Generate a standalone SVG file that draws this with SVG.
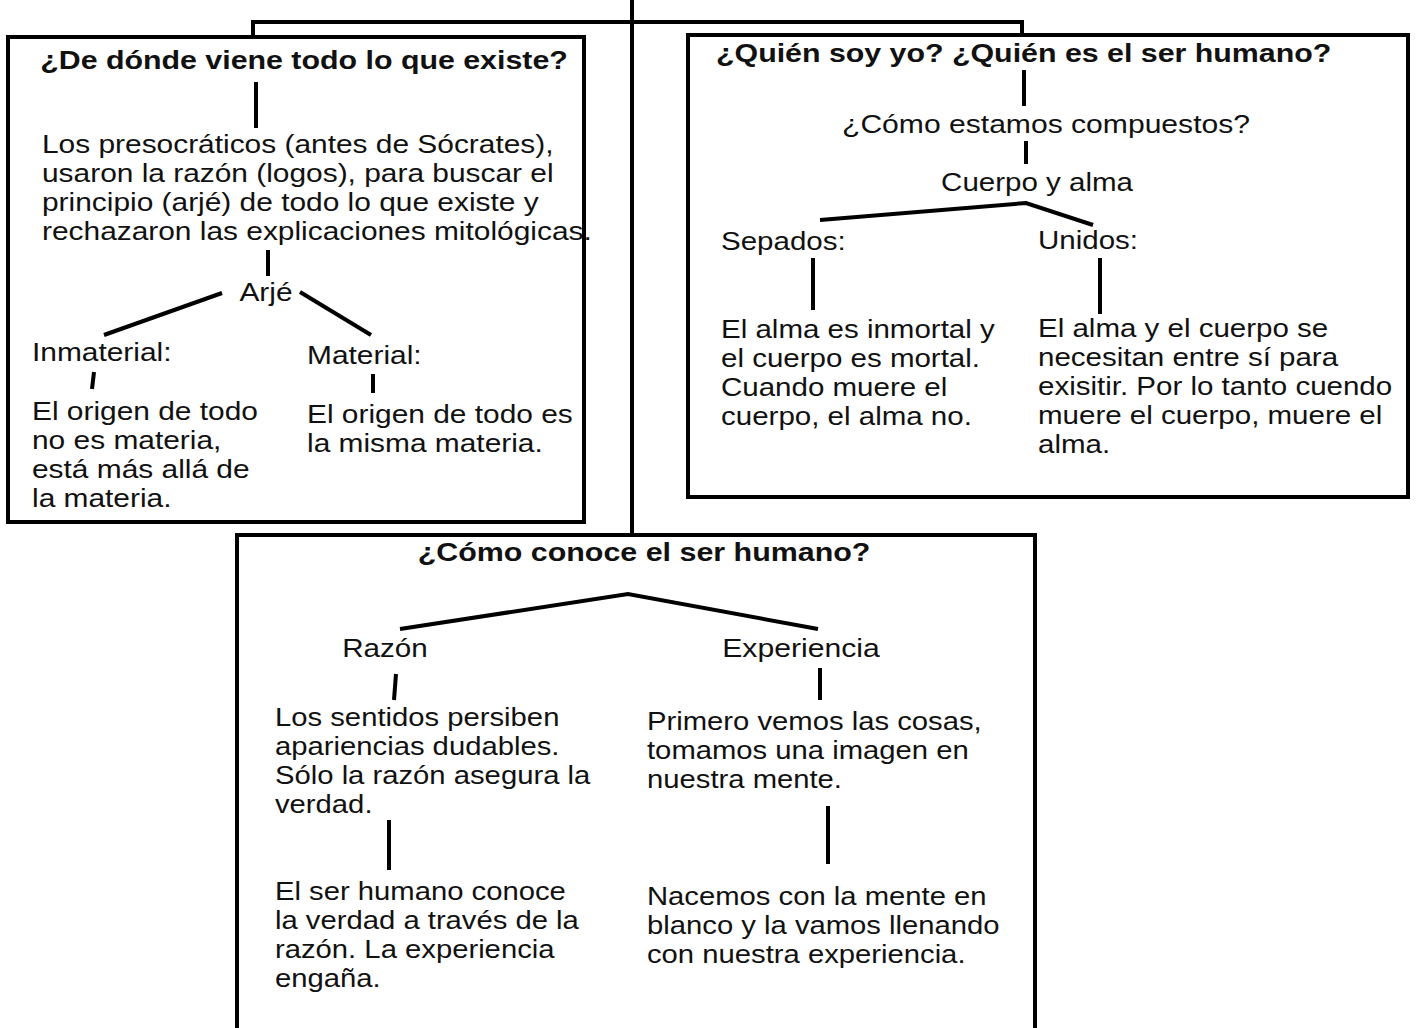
<svg xmlns="http://www.w3.org/2000/svg" width="1416" height="1028" viewBox="0 0 1416 1028">
<style>
.box{fill:none;stroke:#000;stroke-width:4}
.ln{stroke:#000;stroke-width:4;fill:none;stroke-linecap:butt}
text{font-family:"Liberation Sans",Arial,sans-serif;font-size:26px;fill:#111}
.t{font-weight:bold;font-size:26px}
.c{text-anchor:middle}
</style>
<rect width="1416" height="1028" fill="#fff"/>
<g id="connectors">
<path class="ln" d="M632 0 V535"/>
<path class="ln" d="M253 37 V22 H1022 V37"/>
<path class="ln" d="M256 82 V128"/>
<path class="ln" d="M268 250 V276"/>
<path class="ln" d="M222 293 L104 335"/>
<path class="ln" d="M300 292 L371 335"/>
<path class="ln" d="M94 372 L92 389"/>
<path class="ln" d="M373 374 V393"/>
<path class="ln" d="M1024 70 V106"/>
<path class="ln" d="M1026 141 V164"/>
<path class="ln" d="M820 220 L1026 203 L1093 225"/>
<path class="ln" d="M813 258 V310"/>
<path class="ln" d="M1100 258 V314"/>
<path class="ln" d="M400 629 L628 594 L818 629"/>
<path class="ln" d="M396 674 L394 700"/>
<path class="ln" d="M820 668 V700"/>
<path class="ln" d="M389 820 V870"/>
<path class="ln" d="M828 806 V864"/>
</g>
<g id="node-origen">
<rect class="box" x="8" y="37" width="576" height="485"/>
<text class="t c" transform="translate(304 69) scale(1.167 1)">¿De dónde viene todo lo que existe?</text>
<text transform="translate(42 153) scale(1.15 1)">Los presocráticos (antes de Sócrates),</text>
<text transform="translate(42 182) scale(1.15 1)">usaron la razón (logos), para buscar el</text>
<text transform="translate(42 211) scale(1.15 1)">principio (arjé) de todo lo que existe y</text>
<text transform="translate(42 240) scale(1.15 1)">rechazaron las explicaciones mitológicas.</text>
<text class="c" transform="translate(266 301) scale(1.15 1)">Arjé</text>
<text transform="translate(32 361) scale(1.15 1)">Inmaterial:</text>
<text transform="translate(307 364) scale(1.15 1)">Material:</text>
<text transform="translate(32 420) scale(1.15 1)">El origen de todo</text>
<text transform="translate(32 449) scale(1.15 1)">no es materia,</text>
<text transform="translate(32 478) scale(1.15 1)">está más allá de</text>
<text transform="translate(32 507) scale(1.15 1)">la materia.</text>
<text transform="translate(307 423) scale(1.15 1)">El origen de todo es</text>
<text transform="translate(307 452) scale(1.15 1)">la misma materia.</text>
</g>
<g id="node-quien">
<rect class="box" x="688" y="35" width="720" height="462"/>
<text class="t" transform="translate(716 62) scale(1.167 1)">¿Quién soy yo? ¿Quién es el ser humano?</text>
<text class="c" transform="translate(1046 133) scale(1.158 1)">¿Cómo estamos compuestos?</text>
<text class="c" transform="translate(1037 191) scale(1.135 1)">Cuerpo y alma</text>
<text transform="translate(721 250) scale(1.135 1)">Sepados:</text>
<text transform="translate(1038 249) scale(1.135 1)">Unidos:</text>
<text transform="translate(721 338) scale(1.135 1)">El alma es inmortal y</text>
<text transform="translate(721 367) scale(1.135 1)">el cuerpo es mortal.</text>
<text transform="translate(721 396) scale(1.135 1)">Cuando muere el</text>
<text transform="translate(721 425) scale(1.135 1)">cuerpo, el alma no.</text>
<text transform="translate(1038 337) scale(1.135 1)">El alma y el cuerpo se</text>
<text transform="translate(1038 366) scale(1.135 1)">necesitan entre sí para</text>
<text transform="translate(1038 395) scale(1.135 1)">exisitir. Por lo tanto cuendo</text>
<text transform="translate(1038 424) scale(1.135 1)">muere el cuerpo, muere el</text>
<text transform="translate(1038 453) scale(1.135 1)">alma.</text>
</g>
<g id="node-conoce">
<rect class="box" x="237" y="535" width="798" height="510"/>
<text class="t c" transform="translate(644 561) scale(1.17 1)">¿Cómo conoce el ser humano?</text>
<text class="c" transform="translate(385 657) scale(1.14 1)">Razón</text>
<text class="c" transform="translate(801 657) scale(1.16 1)">Experiencia</text>
<text transform="translate(275 726) scale(1.125 1)">Los sentidos persiben</text>
<text transform="translate(275 755) scale(1.125 1)">apariencias dudables.</text>
<text transform="translate(275 784) scale(1.125 1)">Sólo la razón asegura la</text>
<text transform="translate(275 813) scale(1.125 1)">verdad.</text>
<text transform="translate(275 900) scale(1.125 1)">El ser humano conoce</text>
<text transform="translate(275 929) scale(1.125 1)">la verdad a través de la</text>
<text transform="translate(275 958) scale(1.125 1)">razón. La experiencia</text>
<text transform="translate(275 987) scale(1.125 1)">engaña.</text>
<text transform="translate(647 730) scale(1.125 1)">Primero vemos las cosas,</text>
<text transform="translate(647 759) scale(1.125 1)">tomamos una imagen en</text>
<text transform="translate(647 788) scale(1.125 1)">nuestra mente.</text>
<text transform="translate(647 905) scale(1.125 1)">Nacemos con la mente en</text>
<text transform="translate(647 934) scale(1.125 1)">blanco y la vamos llenando</text>
<text transform="translate(647 963) scale(1.125 1)">con nuestra experiencia.</text>
</g>
</svg>
